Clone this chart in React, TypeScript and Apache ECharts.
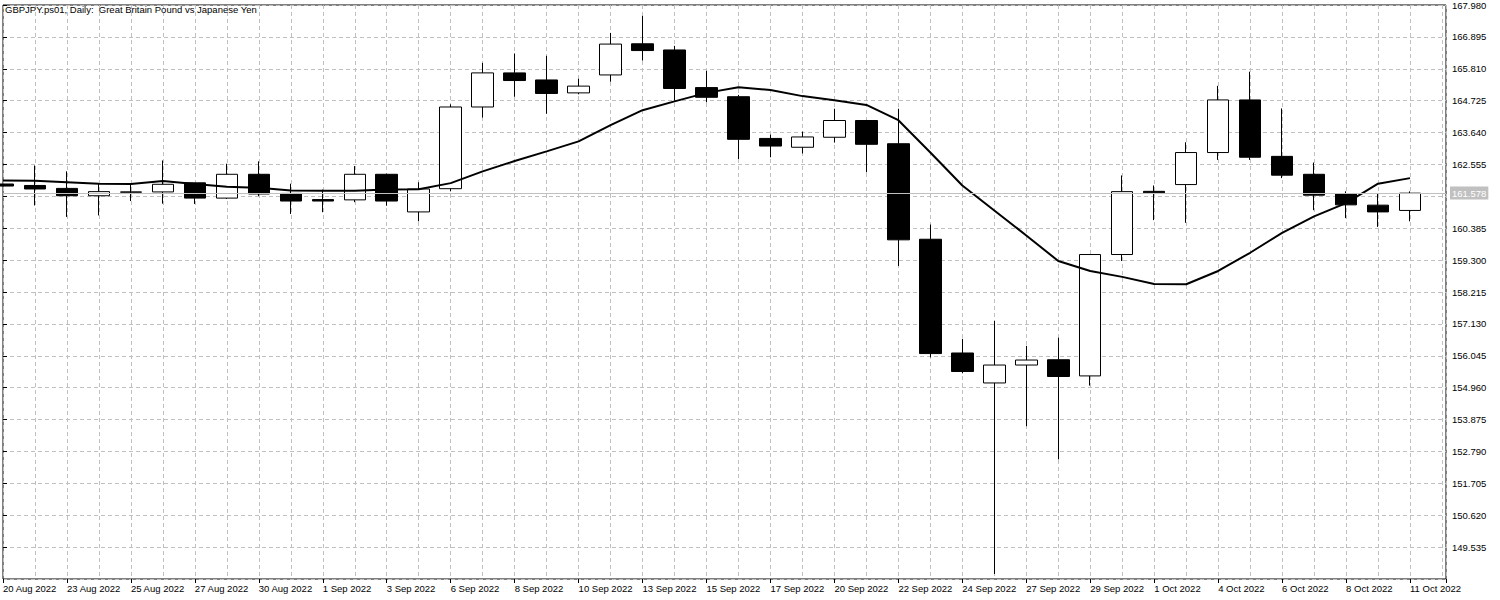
import { useEffect, useRef } from 'react';
import * as echarts from 'echarts';

const TITLE = 'GBPJPY.ps01, Daily:  Great Britain Pound vs Japanese Yen';
const BASE = 148.45;
const STEP = 1.085;
const LAST_PRICE = 161.578;

const dates = [
  '20 Aug 2022', '22 Aug 2022', '23 Aug 2022', '24 Aug 2022', '25 Aug 2022', '26 Aug 2022', '27 Aug 2022',
  '29 Aug 2022', '30 Aug 2022', '31 Aug 2022', '1 Sep 2022', '2 Sep 2022', '3 Sep 2022',
  '5 Sep 2022', '6 Sep 2022', '7 Sep 2022', '8 Sep 2022', '9 Sep 2022', '10 Sep 2022',
  '12 Sep 2022', '13 Sep 2022', '14 Sep 2022', '15 Sep 2022', '16 Sep 2022', '17 Sep 2022',
  '19 Sep 2022', '20 Sep 2022', '21 Sep 2022', '22 Sep 2022', '23 Sep 2022', '24 Sep 2022',
  '26 Sep 2022', '27 Sep 2022', '28 Sep 2022', '29 Sep 2022', '30 Sep 2022', '1 Oct 2022',
  '3 Oct 2022', '4 Oct 2022', '5 Oct 2022', '6 Oct 2022', '7 Oct 2022', '8 Oct 2022',
  '10 Oct 2022', '11 Oct 2022',
];

const opens = [161.89, 161.84, 161.74, 161.49, 161.61, 161.62, 161.93, 161.41, 162.22, 161.57, 161.36, 161.35, 162.22, 160.94, 161.73, 164.51, 165.67, 165.43, 164.99, 165.60, 166.66, 166.45, 165.17, 164.86, 163.44, 163.14, 163.48, 164.05, 163.26, 160.01, 156.14, 155.12, 155.73, 155.91, 155.36, 159.49, 161.64, 161.87, 162.96, 164.75, 162.83, 162.22, 161.55, 161.17, 160.99];
const closes = [161.82, 161.72, 161.49, 161.63, 161.62, 161.88, 161.41, 162.22, 161.55, 161.31, 161.31, 162.22, 161.31, 161.72, 164.51, 165.67, 165.41, 164.97, 165.22, 166.65, 166.43, 165.14, 164.84, 163.41, 163.18, 163.49, 164.05, 163.24, 159.99, 156.12, 155.51, 155.73, 155.90, 155.34, 159.49, 161.63, 161.59, 162.96, 164.75, 162.80, 162.19, 161.51, 161.18, 160.94, 161.578];
const lows = [161.82, 161.16, 160.77, 160.82, 161.31, 161.22, 161.21, 161.38, 161.48, 160.87, 160.93, 161.27, 161.15, 160.62, 161.64, 164.15, 164.86, 164.28, 164.94, 165.37, 166.09, 164.72, 164.67, 162.74, 162.80, 162.93, 163.30, 162.29, 159.10, 155.99, 155.45, 148.62, 153.65, 152.52, 155.03, 159.27, 160.66, 160.57, 162.71, 162.71, 162.09, 161.00, 160.73, 160.43, 160.62];
const highs = [161.89, 162.52, 162.32, 161.90, 161.90, 162.69, 161.93, 162.58, 162.66, 161.90, 161.70, 162.50, 162.24, 161.95, 164.60, 166.01, 166.33, 166.25, 165.47, 167.03, 167.61, 166.59, 165.74, 164.92, 163.57, 163.67, 164.45, 164.07, 164.45, 160.51, 156.62, 157.23, 156.38, 156.66, 159.50, 162.18, 161.84, 163.31, 165.23, 165.71, 164.46, 162.62, 161.64, 161.58, 161.64];
const ma = [162.01, 162.00, 161.95, 161.90, 161.89, 161.99, 161.89, 161.80, 161.76, 161.67, 161.66, 161.66, 161.70, 161.71, 161.92, 162.32, 162.67, 163.00, 163.34, 163.89, 164.40, 164.70, 164.99, 165.18, 165.09, 164.88, 164.74, 164.58, 164.06, 162.96, 161.84, 160.99, 160.14, 159.27, 158.93, 158.73, 158.49, 158.48, 158.93, 159.55, 160.23, 160.79, 161.24, 161.90, 162.09];

const FONT = "'Liberation Sans', Arial, sans-serif";
const FS = 9.5;

export default function App() {
  const ref = useRef<HTMLDivElement>(null);
  useEffect(() => {
    const chart = echarts.init(ref.current as HTMLDivElement, null, { renderer: 'svg' });
    const candles = dates.map((_, i) => [i, opens[i] - BASE, closes[i] - BASE, lows[i] - BASE, highs[i] - BASE]);
    const maData = ma.map((v, i) => [i, v - BASE]);
    const xMax = 45.125;
    chart.setOption({
      animation: false,
      backgroundColor: '#ffffff',
      textStyle: { fontFamily: FONT },
      graphic: [
        {
          type: 'text',
          left: 5,
          top: 4,
          z: 10,
          style: { text: TITLE, fontSize: FS, fontFamily: FONT, fill: '#000' },
        },
      ],
      grid: {
        left: 2,
        right: 54,
        top: 3,
        bottom: 21,
        show: true,
        borderColor: '#000',
        borderWidth: 1,
        backgroundColor: 'transparent',
      },
      xAxis: [
        {
          type: 'value',
          position: 'bottom',
          min: 0,
          max: xMax,
          interval: 1,
          axisLine: { show: false },
          axisTick: { show: false },
          axisLabel: { show: false },
          splitLine: { show: true, lineStyle: { color: '#c0c0c0', type: [4, 3], width: 1 } },
        },
        {
          type: 'value',
          position: 'bottom',
          min: 0,
          max: xMax,
          interval: 2,
          axisLine: { show: false },
          axisTick: { show: true, length: 4, lineStyle: { color: '#000' } },
          axisLabel: {
            show: true,
            align: 'left',
            margin: 4,
            fontSize: FS,
            fontFamily: FONT,
            color: '#000',
            formatter: (v: number) => (Number.isInteger(v) && dates[v] ? dates[v] : ''),
          },
          splitLine: { show: false },
        },
      ],
      yAxis: {
        type: 'value',
        position: 'right',
        min: 0,
        max: 19.53,
        interval: STEP,
        axisLine: { show: false },
        axisTick: { show: true, length: 4, lineStyle: { color: '#000' } },
        axisLabel: {
          show: true,
          margin: 6,
          fontSize: FS,
          fontFamily: FONT,
          color: '#000',
          showMinLabel: false,
          // the tick label hidden behind the current-price box is left out
          formatter: (v: number) => {
            const p = v + BASE;
            return Math.abs(p - LAST_PRICE) < STEP / 3 ? '' : p.toFixed(3);
          },
        },
        splitLine: { show: true, lineStyle: { color: '#c0c0c0', type: [4, 3], width: 1 } },
      },
      series: [
        {
          type: 'candlestick',
          xAxisIndex: 0,
          yAxisIndex: 0,
          data: candles,
          barWidth: 22,
          clip: true,
          z: 3,
          itemStyle: {
            color: '#ffffff',
            color0: '#000000',
            borderColor: '#000000',
            borderColor0: '#000000',
            borderColorDoji: '#000000',
            borderWidth: 1,
          },
          markLine: {
            silent: true,
            symbol: 'none',
            animation: false,
            lineStyle: { color: '#c0c0c0', type: 'solid', width: 1 },
            label: {
              show: true,
              position: 'end',
              distance: 4,
              formatter: LAST_PRICE.toFixed(3),
              backgroundColor: '#c0c0c0',
              color: '#ffffff',
              padding: [2, 2, 1, 2],
              fontSize: FS,
              fontFamily: FONT,
            },
            data: [{ yAxis: LAST_PRICE - BASE }],
          },
        },
        {
          type: 'line',
          xAxisIndex: 0,
          yAxisIndex: 0,
          data: maData,
          symbol: 'none',
          showSymbol: false,
          clip: true,
          z: 4,
          lineStyle: { color: '#000', width: 2 },
          itemStyle: { color: '#000' },
        },
      ],
    });
    return () => chart.dispose();
  }, []);
  return (
    <div
      ref={ref}
      style={{ position: 'absolute', left: 0, top: 0, width: 1500, height: 600, background: '#fff' }}
    />
  );
}
